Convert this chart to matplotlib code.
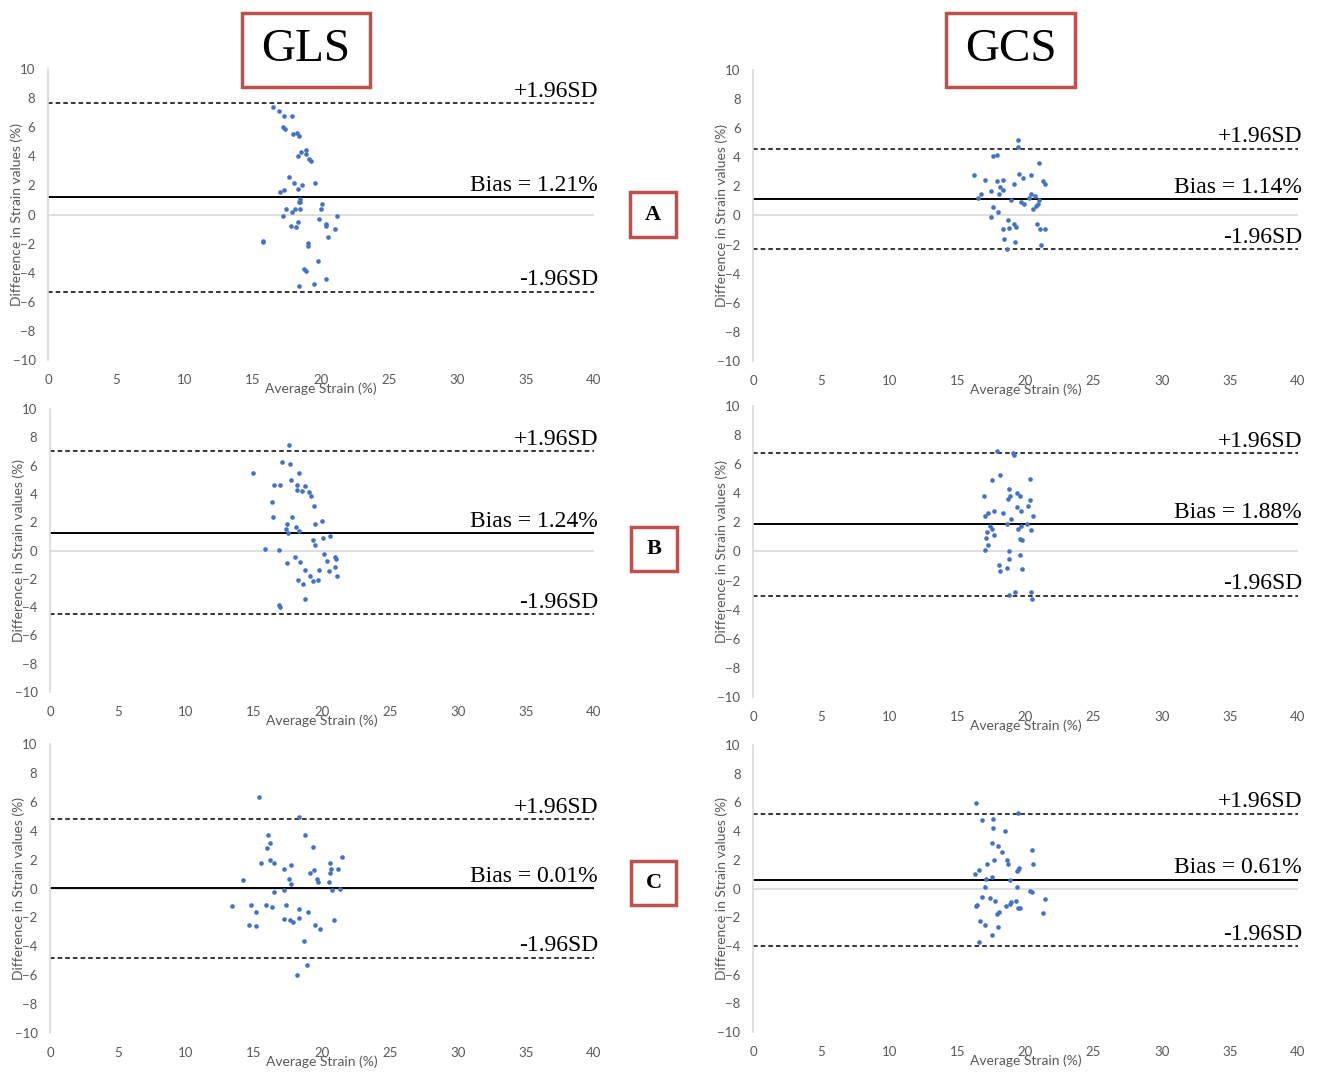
import matplotlib.pyplot as plt
from matplotlib.patches import Rectangle

# GLS panel A (readings)
gls_a_x = [16.51, 16.95, 17.31, 17.88, 17.19, 17.36, 17.92, 18.22, 18.41, 18.51, 18.34, 18.9, 18.9,
           19.12, 19.24, 17.68, 18.0, 18.61, 18.29, 19.58, 17.0, 17.27, 18.46, 18.36, 18.46, 20.05,
           20.0, 17.41, 18.1, 18.46, 17.88, 17.24, 21.15, 19.83, 18.34, 17.78, 18.14, 20.37, 20.37,
           21.0, 20.51, 15.73, 19.02, 19.02, 19.78, 18.73, 18.9, 20.34, 18.36, 19.46, 15.78]
gls_a_y = [7.38, 7.08, 6.78, 6.78, 5.98, 5.86, 5.50, 5.59, 5.38, 4.28, 4.05, 4.40, 4.17, 3.83, 3.66,
           2.56, 2.18, 2.06, 1.77, 2.15, 1.58, 1.67, 1.08, 0.89, 0.87, 0.69, 0.39, 0.39, 0.39, 0.39,
           0.18, -0.12, -0.12, -0.30, -0.50, -0.80, -0.89, -0.64, -0.80, -0.98, -1.53, -1.79, -1.95,
           -2.15, -3.23, -3.73, -3.85, -4.42, -4.90, -4.81, -1.86]

# GCS panel A
gcs_a_x = [19.47, 19.45, 17.64, 17.88, 21.01, 16.22, 17.05, 17.91, 18.37, 19.55, 19.82, 20.38, 21.31,
           21.41, 19.13, 18.13, 18.32, 17.49, 18.08, 16.73, 16.54, 20.43, 20.70, 18.96, 20.23, 19.65,
           19.89, 20.97, 20.94, 20.77, 20.53, 17.59, 18.0, 17.47, 18.74, 19.16, 19.28, 18.81, 18.37,
           20.87, 21.06, 21.46, 18.42, 19.23, 21.11, 18.66]
gcs_a_y = [5.20, 4.70, 4.10, 4.19, 3.62, 2.77, 2.45, 2.36, 2.47, 2.86, 2.56, 2.77, 2.38, 2.18, 2.18,
           1.95, 1.77, 1.67, 1.49, 1.49, 1.19, 1.49, 1.37, 1.08, 1.19, 0.92, 0.80, 1.08, 0.80, 0.66,
           0.46, 0.57, 0.21, -0.11, -0.30, -0.55, -0.76, -0.85, -0.94, -0.55, -0.94, -0.94, -1.60,
           -1.83, -2.02, -2.32]

# GLS panel B
gls_b_x = [17.57, 17.08, 17.62, 14.93, 18.33, 17.72, 16.49, 16.89, 18.19, 18.73, 18.14, 18.55, 19.04,
           19.19, 16.30, 19.41, 16.40, 17.77, 20.02, 19.46, 17.40, 17.35, 18.09, 18.31, 17.52, 20.56,
           20.10, 19.34, 19.46, 15.83, 16.86, 20.15, 20.93, 21.0, 20.39, 18.04, 17.45, 18.40, 20.98,
           18.77, 19.76, 20.51, 19.09, 21.08, 18.26, 19.31, 19.71, 18.58, 18.77, 16.84, 16.89]
gls_b_y = [7.44, 6.24, 6.12, 5.51, 5.51, 4.95, 4.64, 4.64, 4.64, 4.54, 4.31, 4.24, 4.12, 3.82, 3.44,
           3.11, 2.40, 2.40, 2.12, 1.84, 1.86, 1.55, 1.65, 1.41, 1.22, 1.04, 0.85, 0.73, 0.42, 0.14,
           0.02, -0.28, -0.47, -0.61, -0.71, -0.49, -0.87, -0.82, -1.15, -1.36, -1.36, -1.48, -1.77,
           -1.77, -2.07, -2.19, -2.07, -2.38, -3.41, -3.87, -3.98]

# GCS panel B
gcs_b_x = [17.88, 19.08, 19.13, 18.13, 17.57, 20.31, 18.81, 16.98, 19.40, 19.57, 18.86, 18.72, 20.31,
           20.18, 19.40, 19.67, 17.67, 18.35, 17.27, 17.05, 20.53, 18.94, 18.62, 20.13, 17.39, 19.67,
           17.57, 19.45, 17.20, 20.40, 17.67, 17.08, 19.62, 19.77, 17.25, 17.05, 18.79, 19.57, 18.81,
           18.05, 18.62, 18.15, 19.77, 18.81, 19.25, 20.40, 20.45]
gcs_b_y = [6.94, 6.76, 6.64, 5.29, 4.88, 4.97, 4.31, 3.80, 4.01, 3.80, 3.80, 3.64, 3.55, 3.16, 3.04,
           2.75, 2.77, 2.68, 2.68, 2.45, 2.45, 2.25, 1.86, 1.88, 1.77, 1.74, 1.56, 1.56, 1.37, 1.46,
           1.15, 0.96, 0.87, 0.76, 0.48, 0.09, 0.0, -0.21, -0.50, -0.92, -1.12, -1.31, -1.19, -2.96,
           -2.77, -2.75, -3.25]

# GLS panel C
gls_c_x = [15.39, 18.31, 16.03, 18.73, 16.18, 15.98, 19.36, 21.47, 15.49, 16.18, 16.49, 17.72, 17.18,
           20.56, 20.68, 21.20, 19.41, 19.14, 20.61, 19.61, 19.71, 20.51, 17.60, 17.72, 14.17, 17.23,
           16.49, 20.74, 21.30, 13.38, 14.76, 15.90, 16.35, 17.35, 18.28, 15.17, 18.97, 18.28, 17.23,
           17.67, 17.84, 20.90, 14.63, 15.17, 19.51, 19.88, 18.68, 18.92, 18.19]
gls_c_y = [6.35, 4.96, 3.67, 3.67, 3.16, 2.77, 2.86, 2.17, 1.78, 1.96, 1.78, 1.66, 1.36, 1.78, 1.36,
           1.36, 1.27, 1.06, 1.06, 0.67, 0.48, 0.48, 0.67, 0.28, 0.57, -0.12, -0.21, -0.12, -0.02,
           -1.22, -1.13, -1.13, -1.31, -1.13, -1.41, -1.61, -1.61, -2.01, -2.10, -2.21, -2.31, -2.21,
           -2.51, -2.61, -2.51, -2.81, -3.60, -5.31, -6.0]

# GCS panel C
gcs_c_x = [16.39, 19.43, 16.78, 17.61, 17.59, 18.52, 17.54, 17.98, 18.30, 20.50, 18.62, 18.69, 17.71,
           17.17, 20.57, 19.52, 19.35, 19.43, 16.61, 16.32, 17.52, 17.12, 18.86, 17.03, 19.35, 20.33,
           20.48, 16.81, 17.39, 17.79, 21.41, 19.30, 18.94, 18.84, 18.57, 19.47, 19.62, 16.44, 16.39,
           18.08, 17.91, 21.26, 16.66, 17.05, 17.98, 17.56, 16.61]
gcs_c_y = [5.94, 5.25, 4.74, 4.83, 4.25, 4.04, 3.16, 2.95, 2.53, 2.65, 2.02, 1.74, 2.02, 1.74, 1.74,
           1.42, 1.21, 1.32, 1.30, 1.02, 0.79, 0.65, 0.56, 0.07, 0.07, -0.14, -0.23, -0.56, -0.65,
           -0.84, -0.72, -0.84, -0.93, -1.07, -1.23, -1.35, -1.35, -1.14, -1.25, -1.62, -1.76, -1.74,
           -2.23, -2.56, -2.65, -3.23, -3.74]

# bias and limits of agreement: (upper, bias, lower)
limits = {
    'gls_a': (7.65, 1.21, -5.3),
    'gcs_a': (4.6, 1.14, -2.3),
    'gls_b': (7.0, 1.24, -4.5),
    'gcs_b': (6.75, 1.88, -3.05),
    'gls_c': (4.8, 0.01, -4.8),
    'gcs_c': (5.22, 0.61, -4.0),
}

W, H = 1317, 1076
fig = plt.figure(figsize=(W / 100, H / 100), dpi=100)

blue = '#4472C4'
red = '#C0504D'
grey = '#D9D9D9'
tick_col = '#595959'
serif = 'Liberation Serif'
sans = 'Lato'


def px_rect(x0, x1, y0, y1):
    # pixel box -> figure fraction [left, bottom, width, height]
    return [x0 / W, 1 - y1 / H, (x1 - x0) / W, (y1 - y0) / H]


panels = [
    (gls_a_x, gls_a_y, 'gls_a', px_rect(48, 594, 69, 360)),
    (gcs_a_x, gcs_a_y, 'gcs_a', px_rect(753, 1298, 70, 361)),
    (gls_b_x, gls_b_y, 'gls_b', px_rect(50, 594, 409, 692)),
    (gcs_b_x, gcs_b_y, 'gcs_b', px_rect(753, 1298, 406, 697)),
    (gls_c_x, gls_c_y, 'gls_c', px_rect(50, 594, 744, 1033)),
    (gcs_c_x, gcs_c_y, 'gcs_c', px_rect(753, 1298, 745, 1032)),
]

for xs, ys, key, rect in panels:
    ax = fig.add_axes(rect)
    upper, bias, lower = limits[key]
    ax.axhline(0, color=grey, lw=1.2, zorder=1)
    ax.axhline(upper, color='black', lw=1.1, ls=(0, (3, 2)), zorder=2)
    ax.axhline(lower, color='black', lw=1.1, ls=(0, (3, 2)), zorder=2)
    ax.axhline(bias, color='black', lw=1.4, zorder=2)
    ax.scatter(xs, ys, s=11, color=blue, zorder=3, linewidths=0)

    ax.set_xlim(0, 40)
    ax.set_ylim(-10, 10)
    ax.set_xticks(range(0, 41, 5))
    ax.set_yticks(range(-10, 11, 2))
    for s in ['top', 'right', 'bottom']:
        ax.spines[s].set_visible(False)
    ax.spines['left'].set_color(grey)
    ax.spines['left'].set_linewidth(1.2)
    ax.tick_params(length=0, labelsize=9.5, labelcolor=tick_col)
    ax.tick_params(axis='x', pad=10)
    ax.tick_params(axis='y', pad=9)
    for lab in ax.get_xticklabels() + ax.get_yticklabels():
        lab.set_family(sans)

    ax.set_xlabel('Average Strain (%)', fontsize=10, color=tick_col, family=sans)
    ax.xaxis.label.set_va('center')
    ax.xaxis.set_label_coords(0.5, -0.1)
    ax.set_ylabel('Difference in Strain values (%)', fontsize=10, color=tick_col, family=sans)
    ax.yaxis.label.set_va('center')
    ax.yaxis.set_label_coords(-0.057, 0.5)

    for val, txt in [(upper, '+1.96SD'), (bias, 'Bias = %.2f%%' % bias), (lower, '-1.96SD')]:
        ax.annotate(txt, xy=(40.3, val), xytext=(0, 1), textcoords='offset points',
                    ha='right', va='bottom', fontsize=17, family=serif, annotation_clip=False)

# column titles and row letters in red boxes
boxes = [
    ('GLS', (242, 370, 13, 87), 34, 'normal'),
    ('GCS', (946, 1075, 13, 87), 34, 'normal'),
    ('A', (630, 676, 192, 237), 16, 'bold'),
    ('B', (631, 677, 527, 571), 16, 'bold'),
    ('C', (631, 676, 861, 905), 16, 'bold'),
]
for txt, (x0, x1, y0, y1), fs, fw in boxes:
    l, b, w, h = px_rect(x0, x1, y0, y1)
    fig.patches.append(Rectangle((l, b), w, h, transform=fig.transFigure,
                                 fill=False, edgecolor=red, lw=2.5))
    fig.text(l + w / 2, b + h / 2, txt, ha='center', va='center',
             fontsize=fs, fontweight=fw, family=serif)

plt.savefig('out.png')
